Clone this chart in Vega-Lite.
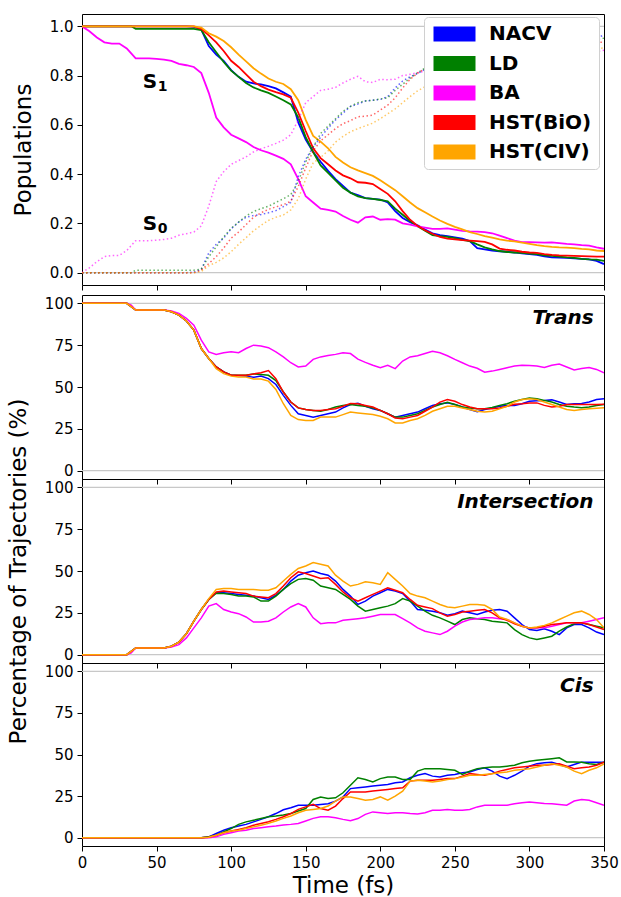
{
"$schema": "https://vega.github.io/schema/vega-lite/v6.json",
"padding": {"left": 6, "top": 13, "right": 4, "bottom": 0},
"config": {
 "font": "DejaVu Sans",
 "view": {"stroke": "black", "strokeWidth": 1},
 "axis": {"domain": false, "grid": false, "labelFlush": false, "tickColor": "black", "tickSize": 5, "labelFontSize": 15, "labelColor": "black", "titleFontSize": 23, "titleFontWeight": "normal", "titleColor": "black", "labelPadding": 4, "titlePadding": 14}
},
"datasets": {
"d": [
{"t":0,"m":"NACV","p":1,"q":0,"a":100,"b":0,"c":0},
{"t":5,"m":"NACV","p":1,"q":0,"a":100,"b":0,"c":0},
{"t":10,"m":"NACV","p":1,"q":0,"a":100,"b":0,"c":0},
{"t":15,"m":"NACV","p":1,"q":0,"a":100,"b":0,"c":0},
{"t":20,"m":"NACV","p":1,"q":0,"a":100,"b":0,"c":0},
{"t":25,"m":"NACV","p":1,"q":0,"a":100,"b":0,"c":0},
{"t":30,"m":"NACV","p":1,"q":0,"a":100,"b":0,"c":0},
{"t":33,"m":"NACV","p":1,"q":0,"a":98,"b":2,"c":0},
{"t":36,"m":"NACV","p":1,"q":0,"a":96,"b":4,"c":0},
{"t":40,"m":"NACV","p":1,"q":0,"a":96,"b":4,"c":0},
{"t":45,"m":"NACV","p":1,"q":0,"a":96,"b":4,"c":0},
{"t":50,"m":"NACV","p":1,"q":0,"a":96,"b":4,"c":0},
{"t":55,"m":"NACV","p":1,"q":0,"a":96,"b":4,"c":0},
{"t":60,"m":"NACV","p":1,"q":0,"a":95,"b":5,"c":0},
{"t":65,"m":"NACV","p":1,"q":0,"a":93,"b":7.5,"c":0},
{"t":70,"m":"NACV","p":1,"q":0,"a":89.5,"b":12.5,"c":0},
{"t":75,"m":"NACV","p":0.998,"q":0.002,"a":84,"b":20,"c":0},
{"t":80,"m":"NACV","p":0.987,"q":0.013,"a":73,"b":27,"c":0},
{"t":85,"m":"NACV","p":0.92,"q":0.08,"a":67,"b":33,"c":0.5},
{"t":90,"m":"NACV","p":0.885,"q":0.115,"a":62,"b":37,"c":2.5},
{"t":95,"m":"NACV","p":0.86,"q":0.14,"a":59,"b":37,"c":4.5},
{"t":100,"m":"NACV","p":0.822,"q":0.178,"a":57,"b":36.5,"c":6},
{"t":105,"m":"NACV","p":0.795,"q":0.205,"a":56.8,"b":36,"c":7},
{"t":110,"m":"NACV","p":0.775,"q":0.225,"a":56.5,"b":35.5,"c":8},
{"t":115,"m":"NACV","p":0.768,"q":0.232,"a":55.8,"b":35,"c":9.5},
{"t":120,"m":"NACV","p":0.764,"q":0.236,"a":56.5,"b":34,"c":11},
{"t":125,"m":"NACV","p":0.757,"q":0.243,"a":55,"b":33,"c":12.6},
{"t":130,"m":"NACV","p":0.748,"q":0.252,"a":51.5,"b":35.5,"c":14.5},
{"t":135,"m":"NACV","p":0.732,"q":0.268,"a":45,"b":39,"c":16.8},
{"t":140,"m":"NACV","p":0.715,"q":0.285,"a":39,"b":44,"c":18},
{"t":145,"m":"NACV","p":0.61,"q":0.39,"a":34,"b":47.5,"c":19.5},
{"t":150,"m":"NACV","p":0.54,"q":0.46,"a":33,"b":49,"c":19.5},
{"t":155,"m":"NACV","p":0.49,"q":0.51,"a":32,"b":50,"c":19.5},
{"t":160,"m":"NACV","p":0.45,"q":0.55,"a":33,"b":48.5,"c":20},
{"t":165,"m":"NACV","p":0.413,"q":0.587,"a":34,"b":47.5,"c":20.4},
{"t":170,"m":"NACV","p":0.38,"q":0.62,"a":35,"b":44,"c":22},
{"t":175,"m":"NACV","p":0.352,"q":0.648,"a":37.5,"b":39,"c":24.5},
{"t":180,"m":"NACV","p":0.325,"q":0.675,"a":39.5,"b":35,"c":29.5},
{"t":185,"m":"NACV","p":0.315,"q":0.685,"a":40.2,"b":30,"c":30},
{"t":190,"m":"NACV","p":0.303,"q":0.697,"a":38.5,"b":32,"c":30.5},
{"t":195,"m":"NACV","p":0.3,"q":0.7,"a":37,"b":35,"c":31},
{"t":200,"m":"NACV","p":0.297,"q":0.703,"a":36,"b":37,"c":31.5},
{"t":205,"m":"NACV","p":0.285,"q":0.715,"a":34,"b":39,"c":32},
{"t":210,"m":"NACV","p":0.25,"q":0.75,"a":32,"b":38,"c":33},
{"t":215,"m":"NACV","p":0.222,"q":0.778,"a":33,"b":36.5,"c":33.5},
{"t":220,"m":"NACV","p":0.205,"q":0.795,"a":34,"b":32,"c":36},
{"t":225,"m":"NACV","p":0.192,"q":0.808,"a":35,"b":27,"c":37.5},
{"t":230,"m":"NACV","p":0.175,"q":0.825,"a":37,"b":26.5,"c":38.5},
{"t":235,"m":"NACV","p":0.16,"q":0.84,"a":39,"b":26,"c":37},
{"t":240,"m":"NACV","p":0.152,"q":0.848,"a":40,"b":25,"c":36.5},
{"t":245,"m":"NACV","p":0.148,"q":0.852,"a":40.5,"b":23.5,"c":37.5},
{"t":250,"m":"NACV","p":0.143,"q":0.857,"a":39.5,"b":24.5,"c":38},
{"t":255,"m":"NACV","p":0.138,"q":0.862,"a":38,"b":26,"c":39},
{"t":260,"m":"NACV","p":0.128,"q":0.872,"a":36.5,"b":25,"c":39.5},
{"t":265,"m":"NACV","p":0.1,"q":0.9,"a":35.2,"b":24,"c":41},
{"t":270,"m":"NACV","p":0.095,"q":0.905,"a":36.5,"b":25.5,"c":42},
{"t":275,"m":"NACV","p":0.09,"q":0.91,"a":37.5,"b":26.5,"c":40},
{"t":280,"m":"NACV","p":0.087,"q":0.913,"a":38.5,"b":27,"c":37},
{"t":285,"m":"NACV","p":0.085,"q":0.915,"a":39,"b":26,"c":35.5},
{"t":290,"m":"NACV","p":0.082,"q":0.918,"a":39,"b":22,"c":37.5},
{"t":295,"m":"NACV","p":0.078,"q":0.922,"a":40,"b":18,"c":40},
{"t":300,"m":"NACV","p":0.075,"q":0.925,"a":41.5,"b":15,"c":43},
{"t":305,"m":"NACV","p":0.072,"q":0.928,"a":41.8,"b":14.5,"c":44.5},
{"t":310,"m":"NACV","p":0.066,"q":0.934,"a":42,"b":15.5,"c":45},
{"t":315,"m":"NACV","p":0.062,"q":0.938,"a":42.3,"b":14,"c":45.4},
{"t":320,"m":"NACV","p":0.061,"q":0.939,"a":41,"b":12,"c":44},
{"t":325,"m":"NACV","p":0.06,"q":0.94,"a":39.5,"b":16,"c":42.5},
{"t":330,"m":"NACV","p":0.058,"q":0.942,"a":40,"b":18,"c":44},
{"t":335,"m":"NACV","p":0.056,"q":0.944,"a":40.2,"b":18,"c":45.4},
{"t":340,"m":"NACV","p":0.054,"q":0.946,"a":41,"b":16,"c":45.4},
{"t":345,"m":"NACV","p":0.048,"q":0.952,"a":42.5,"b":13.5,"c":45.4},
{"t":350,"m":"NACV","p":0.035,"q":0.965,"a":43,"b":12,"c":45.4},
{"t":0,"m":"LD","p":1,"q":0,"a":100,"b":0,"c":0},
{"t":5,"m":"LD","p":1,"q":0,"a":100,"b":0,"c":0},
{"t":10,"m":"LD","p":1,"q":0,"a":100,"b":0,"c":0},
{"t":15,"m":"LD","p":1,"q":0,"a":100,"b":0,"c":0},
{"t":20,"m":"LD","p":1,"q":0,"a":100,"b":0,"c":0},
{"t":25,"m":"LD","p":1,"q":0,"a":100,"b":0,"c":0},
{"t":30,"m":"LD","p":1,"q":0,"a":100,"b":0,"c":0},
{"t":33,"m":"LD","p":1,"q":0,"a":98,"b":2,"c":0},
{"t":36,"m":"LD","p":0.99,"q":0.01,"a":96,"b":4,"c":0},
{"t":40,"m":"LD","p":0.99,"q":0.01,"a":96,"b":4,"c":0},
{"t":45,"m":"LD","p":0.99,"q":0.01,"a":96,"b":4,"c":0},
{"t":50,"m":"LD","p":0.99,"q":0.01,"a":96,"b":4,"c":0},
{"t":55,"m":"LD","p":0.99,"q":0.01,"a":96,"b":4,"c":0},
{"t":60,"m":"LD","p":0.99,"q":0.01,"a":95,"b":5,"c":0},
{"t":65,"m":"LD","p":0.99,"q":0.01,"a":93,"b":7.5,"c":0},
{"t":70,"m":"LD","p":0.99,"q":0.01,"a":89.5,"b":12.5,"c":0},
{"t":75,"m":"LD","p":0.99,"q":0.01,"a":84,"b":20,"c":0},
{"t":80,"m":"LD","p":0.985,"q":0.015,"a":73,"b":27,"c":0},
{"t":85,"m":"LD","p":0.935,"q":0.065,"a":67,"b":33,"c":0.5},
{"t":90,"m":"LD","p":0.895,"q":0.105,"a":62,"b":36.7,"c":1.5},
{"t":95,"m":"LD","p":0.855,"q":0.145,"a":59,"b":36.5,"c":3.5},
{"t":100,"m":"LD","p":0.82,"q":0.18,"a":57,"b":36,"c":5.5},
{"t":105,"m":"LD","p":0.795,"q":0.205,"a":57,"b":35,"c":8},
{"t":110,"m":"LD","p":0.77,"q":0.23,"a":57,"b":35,"c":9.5},
{"t":115,"m":"LD","p":0.752,"q":0.248,"a":57.8,"b":34.5,"c":10.5},
{"t":120,"m":"LD","p":0.74,"q":0.26,"a":57.5,"b":32,"c":11.5},
{"t":125,"m":"LD","p":0.73,"q":0.27,"a":57,"b":32,"c":12.6},
{"t":130,"m":"LD","p":0.715,"q":0.285,"a":53.8,"b":35,"c":13},
{"t":135,"m":"LD","p":0.7,"q":0.3,"a":47,"b":39,"c":13.6},
{"t":140,"m":"LD","p":0.683,"q":0.317,"a":41,"b":42.5,"c":14.5},
{"t":145,"m":"LD","p":0.63,"q":0.37,"a":37.5,"b":45,"c":16},
{"t":150,"m":"LD","p":0.55,"q":0.45,"a":36.5,"b":45.5,"c":17.5},
{"t":155,"m":"LD","p":0.49,"q":0.51,"a":36,"b":44.5,"c":23},
{"t":160,"m":"LD","p":0.435,"q":0.565,"a":35.5,"b":41,"c":24.5},
{"t":165,"m":"LD","p":0.405,"q":0.595,"a":36.5,"b":40,"c":23.5},
{"t":170,"m":"LD","p":0.375,"q":0.625,"a":38,"b":39,"c":24},
{"t":175,"m":"LD","p":0.345,"q":0.655,"a":39,"b":36,"c":27},
{"t":180,"m":"LD","p":0.325,"q":0.675,"a":39.5,"b":33,"c":31.5},
{"t":185,"m":"LD","p":0.31,"q":0.69,"a":39,"b":29,"c":36},
{"t":190,"m":"LD","p":0.303,"q":0.697,"a":38.5,"b":26,"c":35},
{"t":195,"m":"LD","p":0.3,"q":0.7,"a":37.5,"b":27,"c":33.5},
{"t":200,"m":"LD","p":0.295,"q":0.705,"a":36,"b":28,"c":35.5},
{"t":205,"m":"LD","p":0.29,"q":0.71,"a":34,"b":29,"c":36.5},
{"t":210,"m":"LD","p":0.26,"q":0.74,"a":32,"b":30.5,"c":36.5},
{"t":215,"m":"LD","p":0.235,"q":0.765,"a":32,"b":33.5,"c":35},
{"t":220,"m":"LD","p":0.21,"q":0.79,"a":33,"b":32,"c":35},
{"t":225,"m":"LD","p":0.188,"q":0.812,"a":34,"b":29,"c":40},
{"t":230,"m":"LD","p":0.17,"q":0.83,"a":36,"b":26,"c":41.5},
{"t":235,"m":"LD","p":0.152,"q":0.848,"a":38,"b":23.5,"c":41.5},
{"t":240,"m":"LD","p":0.148,"q":0.852,"a":39.5,"b":22,"c":41.5},
{"t":245,"m":"LD","p":0.145,"q":0.855,"a":40.8,"b":20,"c":41},
{"t":250,"m":"LD","p":0.14,"q":0.86,"a":39.5,"b":18,"c":40.5},
{"t":255,"m":"LD","p":0.133,"q":0.867,"a":38,"b":21,"c":38},
{"t":260,"m":"LD","p":0.128,"q":0.872,"a":37.5,"b":22,"c":40},
{"t":265,"m":"LD","p":0.115,"q":0.885,"a":37,"b":21.5,"c":41.5},
{"t":270,"m":"LD","p":0.103,"q":0.897,"a":37,"b":21,"c":42},
{"t":275,"m":"LD","p":0.095,"q":0.905,"a":37.8,"b":20,"c":42.5},
{"t":280,"m":"LD","p":0.088,"q":0.912,"a":39,"b":19.5,"c":42.5},
{"t":285,"m":"LD","p":0.084,"q":0.916,"a":40,"b":19,"c":43},
{"t":290,"m":"LD","p":0.082,"q":0.918,"a":41.5,"b":15,"c":43.5},
{"t":295,"m":"LD","p":0.08,"q":0.92,"a":42.5,"b":12,"c":45},
{"t":300,"m":"LD","p":0.077,"q":0.923,"a":43.4,"b":10,"c":46},
{"t":305,"m":"LD","p":0.075,"q":0.925,"a":43,"b":9,"c":46.5},
{"t":310,"m":"LD","p":0.07,"q":0.93,"a":42,"b":10,"c":47},
{"t":315,"m":"LD","p":0.068,"q":0.932,"a":41,"b":11,"c":47.5},
{"t":320,"m":"LD","p":0.065,"q":0.935,"a":39.5,"b":14,"c":48},
{"t":325,"m":"LD","p":0.062,"q":0.938,"a":38.5,"b":16.5,"c":45.5},
{"t":330,"m":"LD","p":0.06,"q":0.94,"a":38,"b":18.5,"c":45.5},
{"t":335,"m":"LD","p":0.056,"q":0.944,"a":37.6,"b":19,"c":45.4},
{"t":340,"m":"LD","p":0.054,"q":0.946,"a":38,"b":18,"c":44.5},
{"t":345,"m":"LD","p":0.053,"q":0.947,"a":39,"b":17,"c":44},
{"t":350,"m":"LD","p":0.048,"q":0.952,"a":39.6,"b":16,"c":45.4},
{"t":0,"m":"BA","p":1,"q":0,"a":100,"b":0,"c":0},
{"t":5,"m":"BA","p":0.98,"q":0.02,"a":100,"b":0,"c":0},
{"t":10,"m":"BA","p":0.955,"q":0.045,"a":100,"b":0,"c":0},
{"t":15,"m":"BA","p":0.935,"q":0.065,"a":100,"b":0,"c":0},
{"t":20,"m":"BA","p":0.93,"q":0.07,"a":100,"b":0,"c":0},
{"t":25,"m":"BA","p":0.93,"q":0.07,"a":100,"b":0,"c":0},
{"t":30,"m":"BA","p":0.91,"q":0.09,"a":100,"b":0,"c":0},
{"t":33,"m":"BA","p":0.89,"q":0.11,"a":99,"b":1,"c":0},
{"t":36,"m":"BA","p":0.87,"q":0.13,"a":96,"b":4,"c":0},
{"t":40,"m":"BA","p":0.87,"q":0.13,"a":96,"b":4,"c":0},
{"t":45,"m":"BA","p":0.87,"q":0.13,"a":96,"b":4,"c":0},
{"t":50,"m":"BA","p":0.868,"q":0.132,"a":96,"b":4,"c":0},
{"t":55,"m":"BA","p":0.865,"q":0.135,"a":96,"b":4,"c":0},
{"t":60,"m":"BA","p":0.86,"q":0.14,"a":95.5,"b":4.5,"c":0},
{"t":65,"m":"BA","p":0.848,"q":0.152,"a":94,"b":6,"c":0},
{"t":70,"m":"BA","p":0.842,"q":0.158,"a":91,"b":10,"c":0},
{"t":75,"m":"BA","p":0.835,"q":0.165,"a":87,"b":16,"c":0},
{"t":80,"m":"BA","p":0.81,"q":0.19,"a":78,"b":22,"c":0},
{"t":85,"m":"BA","p":0.73,"q":0.27,"a":71,"b":29,"c":0},
{"t":90,"m":"BA","p":0.63,"q":0.37,"a":69.5,"b":30.5,"c":0.5},
{"t":95,"m":"BA","p":0.59,"q":0.41,"a":70.5,"b":27,"c":2},
{"t":100,"m":"BA","p":0.56,"q":0.44,"a":71,"b":25.5,"c":3},
{"t":105,"m":"BA","p":0.545,"q":0.455,"a":70.5,"b":24.5,"c":4},
{"t":110,"m":"BA","p":0.53,"q":0.47,"a":73,"b":22.5,"c":4.5},
{"t":115,"m":"BA","p":0.51,"q":0.49,"a":75,"b":19.5,"c":5.5},
{"t":120,"m":"BA","p":0.497,"q":0.503,"a":74.5,"b":19.5,"c":6},
{"t":125,"m":"BA","p":0.487,"q":0.513,"a":73.5,"b":20,"c":6.6},
{"t":130,"m":"BA","p":0.475,"q":0.525,"a":71,"b":22,"c":7},
{"t":135,"m":"BA","p":0.462,"q":0.538,"a":68,"b":25.5,"c":7.6},
{"t":140,"m":"BA","p":0.44,"q":0.56,"a":64.5,"b":28.5,"c":8},
{"t":145,"m":"BA","p":0.38,"q":0.62,"a":62,"b":30.5,"c":8.5},
{"t":150,"m":"BA","p":0.31,"q":0.69,"a":62.5,"b":28.5,"c":10},
{"t":155,"m":"BA","p":0.285,"q":0.715,"a":66.5,"b":22,"c":11.6},
{"t":160,"m":"BA","p":0.26,"q":0.74,"a":68,"b":18.5,"c":12.6},
{"t":165,"m":"BA","p":0.255,"q":0.745,"a":68.8,"b":19,"c":12.6},
{"t":170,"m":"BA","p":0.248,"q":0.752,"a":69.5,"b":19,"c":12},
{"t":175,"m":"BA","p":0.23,"q":0.77,"a":70.5,"b":20.5,"c":11},
{"t":180,"m":"BA","p":0.215,"q":0.785,"a":70,"b":21,"c":10.2},
{"t":185,"m":"BA","p":0.203,"q":0.797,"a":66.7,"b":21.5,"c":11.5},
{"t":190,"m":"BA","p":0.225,"q":0.775,"a":64.7,"b":22,"c":14},
{"t":195,"m":"BA","p":0.228,"q":0.772,"a":63,"b":23,"c":15.5},
{"t":200,"m":"BA","p":0.215,"q":0.785,"a":61.5,"b":24,"c":15},
{"t":205,"m":"BA","p":0.217,"q":0.783,"a":63,"b":24,"c":14.5},
{"t":210,"m":"BA","p":0.215,"q":0.785,"a":61,"b":24,"c":15},
{"t":215,"m":"BA","p":0.2,"q":0.8,"a":65.5,"b":21.5,"c":15},
{"t":220,"m":"BA","p":0.195,"q":0.805,"a":68,"b":19,"c":14.5},
{"t":225,"m":"BA","p":0.188,"q":0.812,"a":68.7,"b":16,"c":14.2},
{"t":230,"m":"BA","p":0.183,"q":0.817,"a":70,"b":14,"c":15},
{"t":235,"m":"BA","p":0.178,"q":0.822,"a":71.3,"b":13,"c":16.5},
{"t":240,"m":"BA","p":0.178,"q":0.822,"a":70.5,"b":12,"c":16.5},
{"t":245,"m":"BA","p":0.18,"q":0.82,"a":68.7,"b":14,"c":17},
{"t":250,"m":"BA","p":0.175,"q":0.825,"a":66.5,"b":17,"c":16.5},
{"t":255,"m":"BA","p":0.17,"q":0.83,"a":64.5,"b":19.5,"c":16.5},
{"t":260,"m":"BA","p":0.168,"q":0.832,"a":62.5,"b":21,"c":17},
{"t":265,"m":"BA","p":0.167,"q":0.833,"a":61.2,"b":21.5,"c":18.5},
{"t":270,"m":"BA","p":0.165,"q":0.835,"a":58.8,"b":22,"c":19.5},
{"t":275,"m":"BA","p":0.16,"q":0.84,"a":59.5,"b":22,"c":19.5},
{"t":280,"m":"BA","p":0.15,"q":0.85,"a":60.5,"b":21.5,"c":19.5},
{"t":285,"m":"BA","p":0.14,"q":0.86,"a":61.5,"b":21,"c":19.5},
{"t":290,"m":"BA","p":0.13,"q":0.87,"a":62.5,"b":19,"c":20.4},
{"t":295,"m":"BA","p":0.124,"q":0.876,"a":63,"b":17,"c":21},
{"t":300,"m":"BA","p":0.124,"q":0.876,"a":62.8,"b":16,"c":21.4},
{"t":305,"m":"BA","p":0.123,"q":0.877,"a":62.5,"b":16,"c":21},
{"t":310,"m":"BA","p":0.122,"q":0.878,"a":61.7,"b":16,"c":20.5},
{"t":315,"m":"BA","p":0.123,"q":0.877,"a":63,"b":17,"c":20.4},
{"t":320,"m":"BA","p":0.12,"q":0.88,"a":63.7,"b":18,"c":20},
{"t":325,"m":"BA","p":0.117,"q":0.883,"a":62,"b":19,"c":19.5},
{"t":330,"m":"BA","p":0.115,"q":0.885,"a":60.2,"b":19,"c":22},
{"t":335,"m":"BA","p":0.112,"q":0.888,"a":61,"b":19,"c":22.9},
{"t":340,"m":"BA","p":0.11,"q":0.89,"a":61.7,"b":20,"c":22.5},
{"t":345,"m":"BA","p":0.103,"q":0.897,"a":60.5,"b":21,"c":21},
{"t":350,"m":"BA","p":0.097,"q":0.903,"a":58.5,"b":22,"c":19.5},
{"t":0,"m":"HST(BiO)","p":1,"q":0,"a":100,"b":0,"c":0},
{"t":5,"m":"HST(BiO)","p":1,"q":0,"a":100,"b":0,"c":0},
{"t":10,"m":"HST(BiO)","p":1,"q":0,"a":100,"b":0,"c":0},
{"t":15,"m":"HST(BiO)","p":1,"q":0,"a":100,"b":0,"c":0},
{"t":20,"m":"HST(BiO)","p":1,"q":0,"a":100,"b":0,"c":0},
{"t":25,"m":"HST(BiO)","p":1,"q":0,"a":100,"b":0,"c":0},
{"t":30,"m":"HST(BiO)","p":1,"q":0,"a":100,"b":0,"c":0},
{"t":33,"m":"HST(BiO)","p":1,"q":0,"a":98,"b":2,"c":0},
{"t":36,"m":"HST(BiO)","p":1,"q":0,"a":96,"b":4,"c":0},
{"t":40,"m":"HST(BiO)","p":1,"q":0,"a":96,"b":4,"c":0},
{"t":45,"m":"HST(BiO)","p":1,"q":0,"a":96,"b":4,"c":0},
{"t":50,"m":"HST(BiO)","p":1,"q":0,"a":96,"b":4,"c":0},
{"t":55,"m":"HST(BiO)","p":1,"q":0,"a":96,"b":4,"c":0},
{"t":60,"m":"HST(BiO)","p":1,"q":0,"a":95,"b":5,"c":0},
{"t":65,"m":"HST(BiO)","p":1,"q":0,"a":93,"b":7.5,"c":0},
{"t":70,"m":"HST(BiO)","p":1,"q":0,"a":89.5,"b":12.5,"c":0},
{"t":75,"m":"HST(BiO)","p":1,"q":0,"a":84,"b":20,"c":0},
{"t":80,"m":"HST(BiO)","p":0.99,"q":0.01,"a":73,"b":27,"c":0},
{"t":85,"m":"HST(BiO)","p":0.963,"q":0.037,"a":67,"b":33,"c":0.3},
{"t":90,"m":"HST(BiO)","p":0.935,"q":0.065,"a":62,"b":37.5,"c":1.5},
{"t":95,"m":"HST(BiO)","p":0.9,"q":0.1,"a":59,"b":38,"c":3},
{"t":100,"m":"HST(BiO)","p":0.86,"q":0.14,"a":57,"b":37.5,"c":4},
{"t":105,"m":"HST(BiO)","p":0.835,"q":0.165,"a":57,"b":37,"c":5},
{"t":110,"m":"HST(BiO)","p":0.805,"q":0.195,"a":57,"b":36.5,"c":6},
{"t":115,"m":"HST(BiO)","p":0.775,"q":0.225,"a":57.8,"b":35,"c":7.5},
{"t":120,"m":"HST(BiO)","p":0.757,"q":0.243,"a":58.5,"b":34.5,"c":8.5},
{"t":125,"m":"HST(BiO)","p":0.743,"q":0.257,"a":59.8,"b":34,"c":9.6},
{"t":130,"m":"HST(BiO)","p":0.733,"q":0.267,"a":55,"b":36.5,"c":11},
{"t":135,"m":"HST(BiO)","p":0.724,"q":0.276,"a":47,"b":41,"c":12.6},
{"t":140,"m":"HST(BiO)","p":0.71,"q":0.29,"a":41,"b":46,"c":14.5},
{"t":145,"m":"HST(BiO)","p":0.65,"q":0.35,"a":37.5,"b":49.5,"c":17},
{"t":150,"m":"HST(BiO)","p":0.575,"q":0.425,"a":36.5,"b":48.5,"c":18.5},
{"t":155,"m":"HST(BiO)","p":0.505,"q":0.495,"a":36,"b":47,"c":20},
{"t":160,"m":"HST(BiO)","p":0.465,"q":0.535,"a":36,"b":45.5,"c":17.5},
{"t":165,"m":"HST(BiO)","p":0.44,"q":0.56,"a":36.5,"b":46,"c":16.5},
{"t":170,"m":"HST(BiO)","p":0.415,"q":0.585,"a":37,"b":42,"c":19},
{"t":175,"m":"HST(BiO)","p":0.395,"q":0.605,"a":38.5,"b":37.5,"c":23.5},
{"t":180,"m":"HST(BiO)","p":0.383,"q":0.617,"a":40.2,"b":34,"c":27.5},
{"t":185,"m":"HST(BiO)","p":0.367,"q":0.633,"a":40,"b":32,"c":27.5},
{"t":190,"m":"HST(BiO)","p":0.365,"q":0.635,"a":39,"b":34,"c":27.5},
{"t":195,"m":"HST(BiO)","p":0.36,"q":0.64,"a":38,"b":36,"c":28},
{"t":200,"m":"HST(BiO)","p":0.34,"q":0.66,"a":36,"b":38,"c":28.5},
{"t":205,"m":"HST(BiO)","p":0.32,"q":0.68,"a":34,"b":40,"c":29},
{"t":210,"m":"HST(BiO)","p":0.29,"q":0.71,"a":31.5,"b":38.5,"c":29.5},
{"t":215,"m":"HST(BiO)","p":0.25,"q":0.75,"a":31,"b":37,"c":30},
{"t":220,"m":"HST(BiO)","p":0.215,"q":0.785,"a":32,"b":33,"c":34},
{"t":225,"m":"HST(BiO)","p":0.19,"q":0.81,"a":33,"b":29.5,"c":34.5},
{"t":230,"m":"HST(BiO)","p":0.172,"q":0.828,"a":35.5,"b":28.5,"c":34.5},
{"t":235,"m":"HST(BiO)","p":0.158,"q":0.842,"a":38,"b":27.5,"c":34.5},
{"t":240,"m":"HST(BiO)","p":0.145,"q":0.855,"a":41,"b":25,"c":35},
{"t":245,"m":"HST(BiO)","p":0.138,"q":0.862,"a":42.5,"b":23,"c":35.5},
{"t":250,"m":"HST(BiO)","p":0.135,"q":0.865,"a":41.5,"b":24,"c":35.5},
{"t":255,"m":"HST(BiO)","p":0.132,"q":0.868,"a":39.5,"b":25.5,"c":37},
{"t":260,"m":"HST(BiO)","p":0.13,"q":0.87,"a":38,"b":26,"c":38.5},
{"t":265,"m":"HST(BiO)","p":0.128,"q":0.872,"a":37,"b":26.5,"c":38},
{"t":270,"m":"HST(BiO)","p":0.125,"q":0.875,"a":37,"b":27,"c":37.5},
{"t":275,"m":"HST(BiO)","p":0.115,"q":0.885,"a":37,"b":25,"c":38.5},
{"t":280,"m":"HST(BiO)","p":0.098,"q":0.902,"a":37.5,"b":22,"c":40},
{"t":285,"m":"HST(BiO)","p":0.093,"q":0.907,"a":38.5,"b":20.5,"c":41},
{"t":290,"m":"HST(BiO)","p":0.09,"q":0.91,"a":39.7,"b":18.5,"c":42},
{"t":295,"m":"HST(BiO)","p":0.085,"q":0.915,"a":40,"b":17,"c":42.5},
{"t":300,"m":"HST(BiO)","p":0.082,"q":0.918,"a":40.5,"b":16,"c":43},
{"t":305,"m":"HST(BiO)","p":0.08,"q":0.92,"a":40.5,"b":16,"c":43.5},
{"t":310,"m":"HST(BiO)","p":0.075,"q":0.925,"a":39,"b":17,"c":43.5},
{"t":315,"m":"HST(BiO)","p":0.072,"q":0.928,"a":38,"b":18,"c":44},
{"t":320,"m":"HST(BiO)","p":0.07,"q":0.93,"a":38.5,"b":18.5,"c":44.4},
{"t":325,"m":"HST(BiO)","p":0.069,"q":0.931,"a":39.5,"b":19,"c":43},
{"t":330,"m":"HST(BiO)","p":0.068,"q":0.932,"a":39.5,"b":19,"c":41.5},
{"t":335,"m":"HST(BiO)","p":0.067,"q":0.933,"a":39.5,"b":19,"c":42},
{"t":340,"m":"HST(BiO)","p":0.066,"q":0.934,"a":39.5,"b":18,"c":42.5},
{"t":345,"m":"HST(BiO)","p":0.065,"q":0.935,"a":39.5,"b":16.5,"c":43.5},
{"t":350,"m":"HST(BiO)","p":0.065,"q":0.935,"a":39.7,"b":15,"c":45.4},
{"t":0,"m":"HST(CIV)","p":1,"q":0,"a":100,"b":0,"c":0},
{"t":5,"m":"HST(CIV)","p":1,"q":0,"a":100,"b":0,"c":0},
{"t":10,"m":"HST(CIV)","p":1,"q":0,"a":100,"b":0,"c":0},
{"t":15,"m":"HST(CIV)","p":1,"q":0,"a":100,"b":0,"c":0},
{"t":20,"m":"HST(CIV)","p":1,"q":0,"a":100,"b":0,"c":0},
{"t":25,"m":"HST(CIV)","p":1,"q":0,"a":100,"b":0,"c":0},
{"t":30,"m":"HST(CIV)","p":1,"q":0,"a":100,"b":0,"c":0},
{"t":33,"m":"HST(CIV)","p":1,"q":0,"a":98,"b":2,"c":0},
{"t":36,"m":"HST(CIV)","p":1,"q":0,"a":96,"b":4,"c":0},
{"t":40,"m":"HST(CIV)","p":1,"q":0,"a":96,"b":4,"c":0},
{"t":45,"m":"HST(CIV)","p":1,"q":0,"a":96,"b":4,"c":0},
{"t":50,"m":"HST(CIV)","p":1,"q":0,"a":96,"b":4,"c":0},
{"t":55,"m":"HST(CIV)","p":1,"q":0,"a":96,"b":4,"c":0},
{"t":60,"m":"HST(CIV)","p":1,"q":0,"a":95,"b":5,"c":0},
{"t":65,"m":"HST(CIV)","p":1,"q":0,"a":93,"b":7.5,"c":0},
{"t":70,"m":"HST(CIV)","p":1,"q":0,"a":89.5,"b":12.5,"c":0},
{"t":75,"m":"HST(CIV)","p":1,"q":0,"a":84,"b":20,"c":0},
{"t":80,"m":"HST(CIV)","p":0.995,"q":0.005,"a":73,"b":27,"c":0},
{"t":85,"m":"HST(CIV)","p":0.972,"q":0.028,"a":67,"b":33.5,"c":0.3},
{"t":90,"m":"HST(CIV)","p":0.958,"q":0.042,"a":61,"b":39,"c":1.5},
{"t":95,"m":"HST(CIV)","p":0.94,"q":0.06,"a":58,"b":39.5,"c":3},
{"t":100,"m":"HST(CIV)","p":0.915,"q":0.085,"a":56.5,"b":39.5,"c":4},
{"t":105,"m":"HST(CIV)","p":0.885,"q":0.115,"a":56,"b":39,"c":4.5},
{"t":110,"m":"HST(CIV)","p":0.858,"q":0.142,"a":56,"b":39,"c":5.5},
{"t":115,"m":"HST(CIV)","p":0.83,"q":0.17,"a":54.8,"b":39,"c":6.5},
{"t":120,"m":"HST(CIV)","p":0.808,"q":0.192,"a":54.8,"b":38.5,"c":7.5},
{"t":125,"m":"HST(CIV)","p":0.788,"q":0.212,"a":53.5,"b":38.5,"c":8.6},
{"t":130,"m":"HST(CIV)","p":0.775,"q":0.225,"a":48.5,"b":40,"c":10},
{"t":135,"m":"HST(CIV)","p":0.766,"q":0.234,"a":40,"b":44,"c":11.6},
{"t":140,"m":"HST(CIV)","p":0.745,"q":0.255,"a":33,"b":48,"c":13},
{"t":145,"m":"HST(CIV)","p":0.7,"q":0.3,"a":30.5,"b":51.5,"c":15},
{"t":150,"m":"HST(CIV)","p":0.62,"q":0.38,"a":30,"b":53,"c":16.5},
{"t":155,"m":"HST(CIV)","p":0.555,"q":0.445,"a":30,"b":55,"c":17},
{"t":160,"m":"HST(CIV)","p":0.532,"q":0.468,"a":32,"b":54,"c":17.5},
{"t":165,"m":"HST(CIV)","p":0.505,"q":0.495,"a":32,"b":53,"c":19},
{"t":170,"m":"HST(CIV)","p":0.47,"q":0.53,"a":32,"b":47.5,"c":22},
{"t":175,"m":"HST(CIV)","p":0.447,"q":0.553,"a":33.5,"b":44,"c":24.5},
{"t":180,"m":"HST(CIV)","p":0.428,"q":0.572,"a":35,"b":41,"c":24.5},
{"t":185,"m":"HST(CIV)","p":0.415,"q":0.585,"a":34.5,"b":42,"c":23.5},
{"t":190,"m":"HST(CIV)","p":0.404,"q":0.596,"a":34,"b":43.5,"c":22.5},
{"t":195,"m":"HST(CIV)","p":0.393,"q":0.607,"a":33.5,"b":43,"c":23},
{"t":200,"m":"HST(CIV)","p":0.375,"q":0.625,"a":32.5,"b":42,"c":24.5},
{"t":205,"m":"HST(CIV)","p":0.355,"q":0.645,"a":31,"b":49,"c":22.5},
{"t":210,"m":"HST(CIV)","p":0.335,"q":0.665,"a":28.5,"b":45,"c":25},
{"t":215,"m":"HST(CIV)","p":0.31,"q":0.69,"a":28.5,"b":41,"c":28},
{"t":220,"m":"HST(CIV)","p":0.285,"q":0.715,"a":30,"b":36.5,"c":34},
{"t":225,"m":"HST(CIV)","p":0.262,"q":0.738,"a":31,"b":35,"c":34.5},
{"t":230,"m":"HST(CIV)","p":0.245,"q":0.755,"a":33,"b":34,"c":34},
{"t":235,"m":"HST(CIV)","p":0.228,"q":0.772,"a":35.5,"b":32,"c":33.5},
{"t":240,"m":"HST(CIV)","p":0.212,"q":0.788,"a":37,"b":30,"c":34},
{"t":245,"m":"HST(CIV)","p":0.198,"q":0.802,"a":38.5,"b":28.5,"c":35},
{"t":250,"m":"HST(CIV)","p":0.186,"q":0.814,"a":38.5,"b":28,"c":35.5},
{"t":255,"m":"HST(CIV)","p":0.176,"q":0.824,"a":37.5,"b":29,"c":36.5},
{"t":260,"m":"HST(CIV)","p":0.165,"q":0.835,"a":36.5,"b":30,"c":37.5},
{"t":265,"m":"HST(CIV)","p":0.157,"q":0.843,"a":35.5,"b":30,"c":37.5},
{"t":270,"m":"HST(CIV)","p":0.148,"q":0.852,"a":35,"b":29.5,"c":38},
{"t":275,"m":"HST(CIV)","p":0.142,"q":0.858,"a":35.5,"b":27,"c":38.5},
{"t":280,"m":"HST(CIV)","p":0.135,"q":0.865,"a":36.9,"b":22.5,"c":39},
{"t":285,"m":"HST(CIV)","p":0.13,"q":0.87,"a":38.5,"b":21,"c":39.5},
{"t":290,"m":"HST(CIV)","p":0.127,"q":0.873,"a":41,"b":19,"c":40.5},
{"t":295,"m":"HST(CIV)","p":0.122,"q":0.878,"a":42.5,"b":17,"c":41},
{"t":300,"m":"HST(CIV)","p":0.117,"q":0.883,"a":43,"b":16,"c":41.5},
{"t":305,"m":"HST(CIV)","p":0.112,"q":0.888,"a":42.5,"b":16.5,"c":42.5},
{"t":310,"m":"HST(CIV)","p":0.108,"q":0.892,"a":41,"b":17.5,"c":43.5},
{"t":315,"m":"HST(CIV)","p":0.105,"q":0.895,"a":39.5,"b":19,"c":44.4},
{"t":320,"m":"HST(CIV)","p":0.103,"q":0.897,"a":38,"b":21,"c":43.5},
{"t":325,"m":"HST(CIV)","p":0.102,"q":0.898,"a":36.5,"b":23,"c":42.5},
{"t":330,"m":"HST(CIV)","p":0.1,"q":0.9,"a":36,"b":25,"c":40},
{"t":335,"m":"HST(CIV)","p":0.097,"q":0.903,"a":36.5,"b":26,"c":38.5},
{"t":340,"m":"HST(CIV)","p":0.095,"q":0.905,"a":37,"b":24,"c":40.5},
{"t":345,"m":"HST(CIV)","p":0.09,"q":0.91,"a":37.3,"b":21,"c":42},
{"t":350,"m":"HST(CIV)","p":0.088,"q":0.912,"a":37.6,"b":16,"c":44.4}
]
},
"spacing": 10,
"bounds": "flush",
"vconcat": [
{
 "width": 522, "height": 271,
 "layer": [
  {"data": {"values": [{"v": 0}, {"v": 1}]},
   "mark": {"type": "rule", "color": "#c8c8c8", "strokeWidth": 1.2},
   "encoding": {"y": {"field": "v", "type": "quantitative", "scale": {"domain": [-0.05, 1.05], "nice": false, "zero": false}, "axis": {"values": [0, 0.2, 0.4, 0.6, 0.8, 1.0], "format": ".1f", "title": "Populations"}}}},
  {"data": {"name": "d"},
   "mark": {"type": "line", "strokeWidth": 1.8, "clip": true},
   "encoding": {
    "x": {"field": "t", "type": "quantitative", "scale": {"domain": [0, 350], "nice": false}, "axis": {"values": [0, 50, 100, 150, 200, 250, 300, 350], "labels": false, "title": null}},
    "y": {"field": "p", "type": "quantitative", "scale": {"domain": [-0.05, 1.05], "nice": false, "zero": false}, "axis": {"values": [0, 0.2, 0.4, 0.6, 0.8, 1.0], "format": ".1f", "title": "Populations"}},
    "color": {"field": "m", "type": "nominal", "sort": null,
      "scale": {"domain": ["NACV", "LD", "BA", "HST(BiO)", "HST(CIV)"], "range": ["#0000ff", "#008000", "#ff00ff", "#ff0000", "#ffa500"]},
      "legend": {"orient": "none", "legendX": 342, "legendY": 3, "title": null,
        "symbolType": "M-1,-1H4.6V1H-1Z", "symbolSize": 225, "symbolStrokeWidth": 0, "symbolOpacity": 1,
        "labelFontSize": 20, "labelFontWeight": "bold", "labelColor": "black", "labelOffset": 38,
        "rowPadding": 9.5, "padding": 7, "strokeColor": "#d0d0d0", "fillColor": "white", "cornerRadius": 4,
        "encode": {"symbols": {"update": {"fill": {"scale": "color", "field": "value"}, "stroke": {"scale": "color", "field": "value"}, "strokeWidth": {"value": 0}, "opacity": {"value": 1}}}}}}
   }},
  {"data": {"name": "d"},
   "mark": {"type": "line", "strokeWidth": 1.5, "strokeDash": [1.5, 2.5], "opacity": 0.6, "clip": true},
   "encoding": {
    "x": {"field": "t", "type": "quantitative"},
    "y": {"field": "q", "type": "quantitative"},
    "color": {"field": "m", "type": "nominal", "sort": null, "legend": null}
   }},
  {"data": {"values": [{"t": 40.7, "v": 0.748, "s": "S", "u": "1"}, {"t": 40.7, "v": 0.174, "s": "S", "u": "0"}]},
   "layer": [
    {"mark": {"type": "text", "align": "left", "baseline": "alphabetic", "fontSize": 20, "fontWeight": "bold", "color": "black"},
     "encoding": {"x": {"field": "t", "type": "quantitative"}, "y": {"field": "v", "type": "quantitative"}, "text": {"field": "s"}}},
    {"mark": {"type": "text", "align": "left", "baseline": "alphabetic", "fontSize": 14, "fontWeight": "bold", "color": "black", "dx": 15, "dy": 3},
     "encoding": {"x": {"field": "t", "type": "quantitative"}, "y": {"field": "v", "type": "quantitative"}, "text": {"field": "u"}}}
   ]}
 ]
},
{
 "spacing": 0,
 "bounds": "flush",
 "vconcat": [
  {
   "width": 522, "height": 184,
   "layer": [
    {"data": {"values": [{"v": 0}, {"v": 100}]},
     "mark": {"type": "rule", "color": "#c8c8c8", "strokeWidth": 1.2},
     "encoding": {"y": {"field": "v", "type": "quantitative", "scale": {"domain": [-5, 105], "nice": false, "zero": false}, "axis": {"values": [0, 25, 50, 75, 100], "title": null}}}},
    {"data": {"name": "d"},
     "mark": {"type": "line", "strokeWidth": 1.5, "clip": true},
     "encoding": {
      "x": {"field": "t", "type": "quantitative", "scale": {"domain": [0, 350], "nice": false}, "axis": {"values": [0, 50, 100, 150, 200, 250, 300, 350], "labels": false, "title": null}},
      "y": {"field": "a", "type": "quantitative"},
      "color": {"field": "m", "type": "nominal", "sort": null, "legend": null}
     }},
    {"data": {"values": [{"t": 343, "v": 91, "s": "Trans"}]},
     "mark": {"type": "text", "align": "right", "baseline": "middle", "fontSize": 20, "fontWeight": "bold", "fontStyle": "italic", "color": "black"},
     "encoding": {"x": {"field": "t", "type": "quantitative"}, "y": {"field": "v", "type": "quantitative"}, "text": {"field": "s"}}}
   ]
  },
  {
   "width": 522, "height": 184,
   "layer": [
    {"data": {"values": [{"v": 0}, {"v": 100}]},
     "mark": {"type": "rule", "color": "#c8c8c8", "strokeWidth": 1.2},
     "encoding": {"y": {"field": "v", "type": "quantitative", "scale": {"domain": [-5, 105], "nice": false, "zero": false}, "axis": {"values": [0, 25, 50, 75, 100], "title": "Percentage of Trajectories (%)"}}}},
    {"data": {"name": "d"},
     "mark": {"type": "line", "strokeWidth": 1.5, "clip": true},
     "encoding": {
      "x": {"field": "t", "type": "quantitative", "scale": {"domain": [0, 350], "nice": false}, "axis": {"values": [0, 50, 100, 150, 200, 250, 300, 350], "labels": false, "title": null}},
      "y": {"field": "b", "type": "quantitative"},
      "color": {"field": "m", "type": "nominal", "sort": null, "legend": null}
     }},
    {"data": {"values": [{"t": 343, "v": 91, "s": "Intersection"}]},
     "mark": {"type": "text", "align": "right", "baseline": "middle", "fontSize": 20, "fontWeight": "bold", "fontStyle": "italic", "color": "black"},
     "encoding": {"x": {"field": "t", "type": "quantitative"}, "y": {"field": "v", "type": "quantitative"}, "text": {"field": "s"}}}
   ]
  },
  {
   "width": 522, "height": 183,
   "layer": [
    {"data": {"values": [{"v": 0}, {"v": 100}]},
     "mark": {"type": "rule", "color": "#c8c8c8", "strokeWidth": 1.2},
     "encoding": {"y": {"field": "v", "type": "quantitative", "scale": {"domain": [-5, 105], "nice": false, "zero": false}, "axis": {"values": [0, 25, 50, 75, 100], "title": null}}}},
    {"data": {"name": "d"},
     "mark": {"type": "line", "strokeWidth": 1.5, "clip": true},
     "encoding": {
      "x": {"field": "t", "type": "quantitative", "scale": {"domain": [0, 350], "nice": false}, "axis": {"values": [0, 50, 100, 150, 200, 250, 300, 350], "title": "Time (fs)", "titlePadding": 4}},
      "y": {"field": "c", "type": "quantitative"},
      "color": {"field": "m", "type": "nominal", "sort": null, "legend": null}
     }},
    {"data": {"values": [{"t": 343, "v": 91, "s": "Cis"}]},
     "mark": {"type": "text", "align": "right", "baseline": "middle", "fontSize": 20, "fontWeight": "bold", "fontStyle": "italic", "color": "black"},
     "encoding": {"x": {"field": "t", "type": "quantitative"}, "y": {"field": "v", "type": "quantitative"}, "text": {"field": "s"}}}
   ]
  }
 ]
}
]
}
